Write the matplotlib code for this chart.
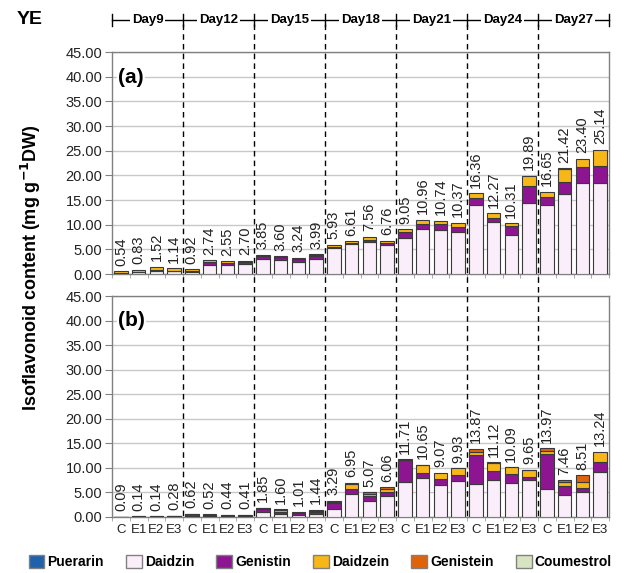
import matplotlib
matplotlib.use('Agg')
import matplotlib.pyplot as plt
import numpy as np
from matplotlib.patches import Patch
from matplotlib.lines import Line2D
import matplotlib.transforms as mtransforms

plt.rcParams['font.family'] = ['Liberation Sans', 'DejaVu Sans']

days = ['Day9', 'Day12', 'Day15', 'Day18', 'Day21', 'Day24', 'Day27']
treatments = ['C', 'E1', 'E2', 'E3']
components = ['Puerarin', 'Daidzin', 'Genistin', 'Daidzein', 'Genistein', 'Coumestrol']
comp_colors = ['#1f62ab', '#f9eef9', '#8e1592', '#f7b718', '#e0630a', '#d8e4bf']

# ---- panel (a) ----
a_puerarin = [0]*28
a_daidzin = [0.20, 0.40, 0.70, 0.60, 0.50, 1.90, 1.80, 1.95,
             3.00, 2.85, 2.50, 3.00, 5.20, 6.00, 6.40, 5.80,
             7.20, 9.08, 9.00, 8.54, 14.02, 10.57, 7.86, 14.37,
             13.90, 16.20, 18.50, 18.40]
a_genistin = [0.10, 0.10, 0.10, 0.10, 0.20, 0.50, 0.45, 0.45,
              0.60, 0.55, 0.50, 0.60, 0.30, 0.30, 0.50, 0.55,
              1.30, 1.14, 1.10, 0.95, 1.36, 0.88, 1.90, 3.38,
              1.70, 2.36, 3.10, 3.40]
a_daidzein = [0.24, 0.33, 0.72, 0.44, 0.22, 0.34, 0.30, 0.30,
              0.15, 0.10, 0.14, 0.29, 0.43, 0.31, 0.66, 0.41,
              0.55, 0.74, 0.64, 0.88, 0.98, 0.82, 0.55, 2.14,
              1.05, 2.76, 1.80, 3.34]
a_genistein = [0]*24 + [0, 0.10, 0, 0]
a_coumestrol = [0, 0, 0, 0, 0, 0, 0, 0,
                0.10, 0.10, 0.10, 0.10, 0, 0, 0, 0,
                0, 0, 0, 0, 0, 0, 0, 0,
                0, 0, 0, 0]
a_totals = [0.54, 0.83, 1.52, 1.14, 0.92, 2.74, 2.55, 2.70,
            3.85, 3.60, 3.24, 3.99, 5.93, 6.61, 7.56, 6.76,
            9.05, 10.96, 10.74, 10.37, 16.36, 12.27, 10.31, 19.89,
            16.65, 21.42, 23.40, 25.14]

# ---- panel (b) ----
b_puerarin = [0]*28
b_daidzin = [0.04, 0.06, 0.06, 0.12, 0.20, 0.17, 0.14, 0.13,
             0.95, 0.60, 0.40, 0.60, 1.70, 4.75, 3.27, 4.20,
             7.07, 8.00, 6.45, 7.27, 6.66, 7.47, 6.92, 7.60,
             5.64, 4.42, 5.03, 9.16]
b_genistin = [0.04, 0.06, 0.06, 0.12, 0.35, 0.30, 0.25, 0.23,
              0.60, 0.50, 0.35, 0.40, 1.20, 1.00, 1.00, 0.90,
              4.48, 0.96, 1.30, 1.36, 6.03, 1.96, 1.77, 0.50,
              7.20, 1.90, 0.95, 1.97]
b_daidzein = [0.01, 0.02, 0.02, 0.04, 0.07, 0.05, 0.05, 0.05,
              0.20, 0.30, 0.16, 0.30, 0.15, 0.95, 0.40, 0.70,
              0.06, 1.59, 1.30, 1.30, 0.60, 1.57, 1.40, 1.40,
              0.60, 0.88, 1.16, 2.11]
b_genistein = [0, 0, 0, 0, 0, 0, 0, 0,
               0.10, 0.20, 0.10, 0.14, 0.24, 0.25, 0.40, 0.26,
               0.10, 0.10, 0, 0, 0.58, 0.12, 0, 0,
               0.53, 0.26, 1.37, 0]
b_coumestrol = [0]*20 + [0, 0, 0.02, 0.15] + [0, 0, 0, 0]
b_totals = [0.09, 0.14, 0.14, 0.28, 0.62, 0.52, 0.44, 0.41,
            1.85, 1.60, 1.01, 1.44, 3.29, 6.95, 5.07, 6.06,
            11.71, 10.65, 9.07, 9.93, 13.87, 11.12, 10.09, 9.65,
            13.97, 7.46, 8.51, 13.24]

y_ticks = [0, 5, 10, 15, 20, 25, 30, 35, 40, 45]

W, H = 624, 573
fig = plt.figure(figsize=(W/100, H/100), dpi=100)

def fy(p):
    return 1 - p / H

left, right = 112 / W, 609 / W
ax_a = fig.add_axes([left, fy(274), right - left, fy(52) - fy(274)])
ax_b = fig.add_axes([left, fy(517), right - left, fy(296) - fy(517)])

n = len(days) * len(treatments)
x = np.arange(n)
edge = '#3a3a3a'
grid_c = '#c8c8c8'

def draw_panel(ax, series, totals, letter, show_xlabels):
    bottom = np.zeros(n)
    for vals, col in zip(series, comp_colors):
        v = np.array(vals, dtype=float)
        mask = v > 0
        ax.bar(x[mask], v[mask], bottom=bottom[mask], width=0.75, color=col,
               edgecolor=edge, linewidth=0.8, zorder=3)
        bottom += v
    for xi, (b, t) in enumerate(zip(bottom, totals)):
        ax.annotate('%.2f' % t, (xi, b), xytext=(0, 4), textcoords='offset points',
                    rotation=90, ha='center', va='bottom', fontsize=10.5,
                    color='#222222', zorder=5)
    ax.set_xlim(-0.5, n - 0.5)
    ax.set_ylim(0, 45)
    ax.set_yticks(y_ticks)
    ax.set_yticklabels(['%.2f' % v for v in y_ticks], fontsize=10.5, color='#222222')
    ax.yaxis.grid(True, color=grid_c, linewidth=1, zorder=0)
    ax.set_axisbelow(True)
    for s in ax.spines.values():
        s.set_color('#808080')
        s.set_linewidth(1)
    ax.tick_params(axis='y', length=5, color='#808080', pad=2)
    ax.set_xticks(np.arange(-0.5, n, 1), minor=True)
    ax.tick_params(axis='x', which='minor', length=3, color='#a0a0a0')
    if show_xlabels:
        ax.set_xticks(x)
        ax.set_xticklabels(treatments * len(days), fontsize=9.5, color='#222222')
        ax.tick_params(axis='x', which='major', length=0, pad=5)
    else:
        ax.set_xticks([])
    ax.text(0.012, 0.93, letter, transform=ax.transAxes, fontsize=15, fontweight='bold',
            ha='left', va='top', zorder=6,
            bbox=dict(facecolor='white', edgecolor='none', pad=1))

draw_panel(ax_a, [a_puerarin, a_daidzin, a_genistin, a_daidzein, a_genistein, a_coumestrol],
           a_totals, '(a)', False)
draw_panel(ax_b, [b_puerarin, b_daidzin, b_genistin, b_daidzein, b_genistein, b_coumestrol],
           b_totals, '(b)', True)

# dashed day separators and header
trans = mtransforms.blended_transform_factory(ax_a.transData, fig.transFigure)
bounds = np.arange(3.5, n - 1, 4)
for bx in bounds:
    fig.add_artist(Line2D([bx, bx], [fy(24), fy(517)], transform=trans, color='black',
                          linewidth=1, linestyle=(0, (4, 3)), zorder=10))
hy = fy(20)
fig.add_artist(Line2D([-0.5, n - 0.5], [hy, hy], transform=trans, color='black', linewidth=1))
for bx in [-0.5] + list(bounds) + [n - 0.5]:
    fig.add_artist(Line2D([bx, bx], [fy(14), fy(26)], transform=trans, color='black', linewidth=1))
for i, d in enumerate(days):
    fig.text(4 * i + 1.5, hy, d, transform=trans, ha='center', va='center',
             fontsize=9.5, fontweight='bold',
             bbox=dict(facecolor='white', edgecolor='none', pad=1.5))

fig.text(17 / W, fy(20), 'YE', fontsize=14, fontweight='bold', ha='left', va='center')
fig.text(31 / W, fy(268), r'Isoflavonoid content (mg g$^{\mathbf{-1}}$DW)', rotation=90,
         fontsize=13, fontweight='bold', ha='center', va='center')

handles = [Patch(facecolor=c, edgecolor='#808080', linewidth=1) for c in comp_colors]
fig.legend(handles, components, loc='center', bbox_to_anchor=(320 / W, fy(562)), ncol=6,
           frameon=False, prop=dict(weight='bold', size=10), handlelength=1.15,
           handleheight=1.15, handletextpad=0.2, columnspacing=1.6,
           borderpad=0.2, borderaxespad=0)

fig.savefig('out.png', dpi=100)
